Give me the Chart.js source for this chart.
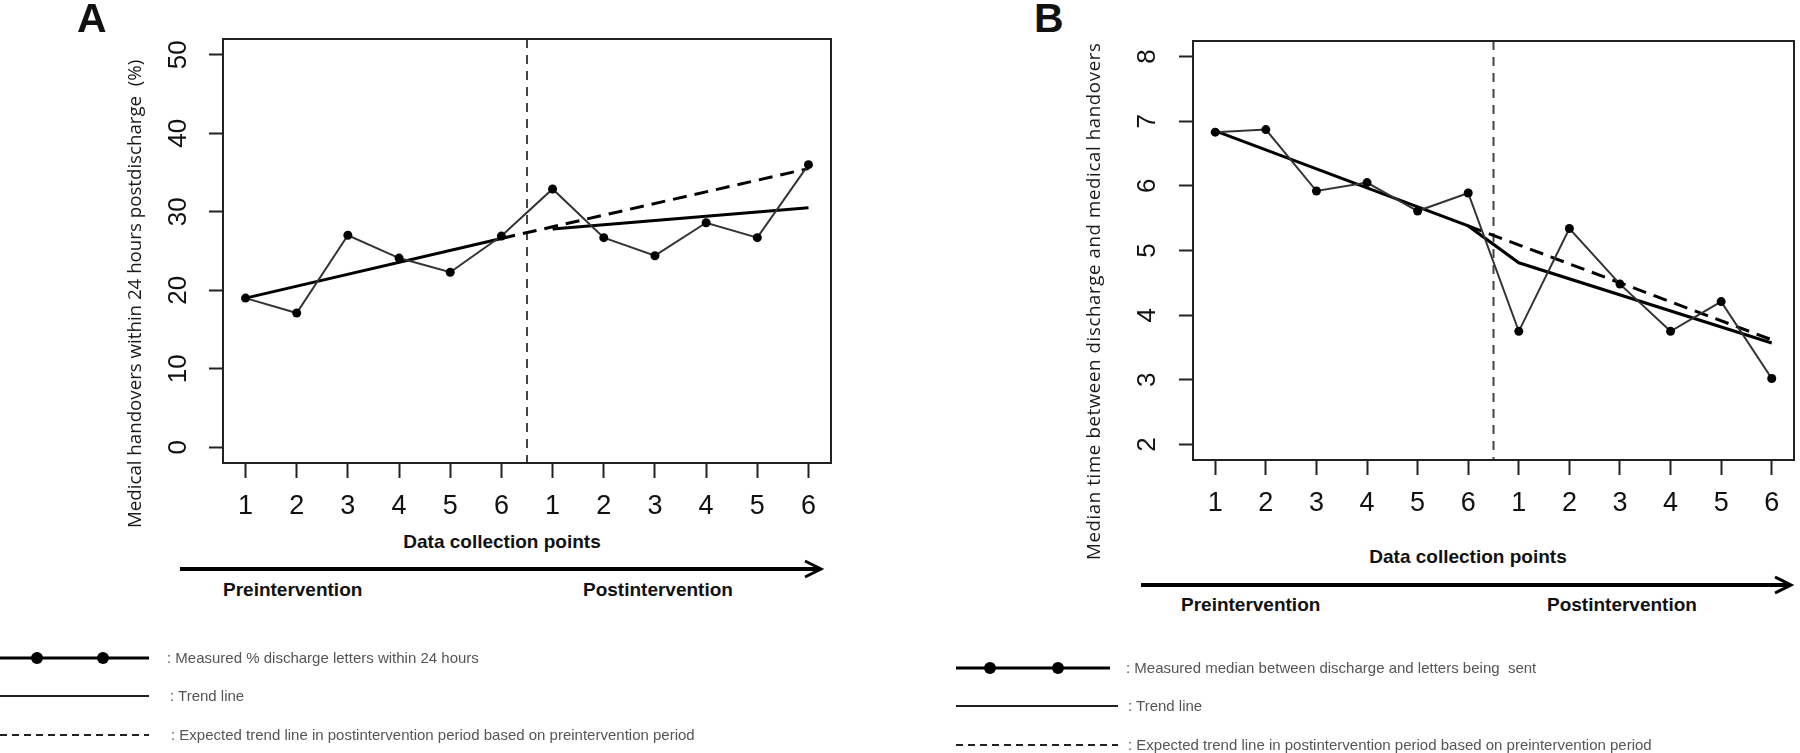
<!DOCTYPE html>
<html>
<head>
<meta charset="utf-8">
<script src="https://cdn.jsdelivr.net/npm/chart.js@4.4.1/dist/chart.umd.min.js"></script>
<style>
body { margin: 0; width: 1800px; height: 753px; background: #fff; position: relative; overflow: hidden; }
canvas { position: absolute; }
.t { position: absolute; white-space: pre; color: #111; }
.letter { font: bold 41px "Liberation Sans", Arial, sans-serif; line-height: 41px; }
.ytitle { font: 18.7px "Open Sans", sans-serif; line-height: 24px; color: #1a1a1a; transform-origin: 0 0; transform: rotate(-90deg); }
.xtitle { font: bold 19px "Liberation Sans Narrow", "Liberation Sans", Arial, sans-serif; line-height: 24px; transform: translateX(-50%); }
.period { font: bold 19px "Liberation Sans Narrow", "Liberation Sans", Arial, sans-serif; line-height: 24px; }
.leg { font: 15px "Liberation Sans Narrow", "Liberation Sans", Arial, sans-serif; line-height: 20px; color: #555; }
svg { position: absolute; left: 0; top: 0; }
</style>
</head>
<body>
<canvas id="chartA" width="880" height="530" style="left:0;top:0"></canvas>
<canvas id="chartB" width="700" height="530" style="left:1100px;top:0"></canvas>

<div class="t letter" style="left:77px;top:-2px">A</div>
<div class="t letter" style="left:1034px;top:-2px">B</div>

<div class="t ytitle" style="left:122px;top:528px">Medical handovers within 24 hours postdischarge  (%)</div>
<div class="t ytitle" style="left:1081px;top:560px;letter-spacing:0.6px">Median time between discharge and medical handovers</div>

<div class="t xtitle" style="left:502px;top:530px">Data collection points</div>
<div class="t xtitle" style="left:1468px;top:545px">Data collection points</div>

<div class="t period" style="left:223px;top:578px">Preintervention</div>
<div class="t period" style="left:583px;top:578px">Postintervention</div>
<div class="t period" style="left:1181px;top:593px">Preintervention</div>
<div class="t period" style="left:1547px;top:593px">Postintervention</div>

<svg width="1800" height="753">
  <g stroke="#000" fill="none">
    <line x1="180" y1="569" x2="820" y2="569" stroke-width="4"/>
    <polyline points="805,561 821,569 805,577" stroke-width="3"/>
    <line x1="1141" y1="585" x2="1790" y2="585" stroke-width="4"/>
    <polyline points="1775,577 1791,585 1775,593" stroke-width="3"/>

    <line x1="0" y1="658" x2="149" y2="658" stroke-width="3"/>
    <line x1="0" y1="696" x2="149" y2="696" stroke-width="2" stroke="#222"/>
    <line x1="0" y1="735" x2="149" y2="735" stroke-width="2" stroke="#222" stroke-dasharray="7 5"/>
    <line x1="956" y1="668" x2="1110" y2="668" stroke-width="3"/>
    <line x1="956" y1="706" x2="1118" y2="706" stroke-width="2" stroke="#222"/>
    <line x1="956" y1="745" x2="1118" y2="745" stroke-width="2" stroke="#222" stroke-dasharray="7 5"/>
  </g>
  <g fill="#000">
    <circle cx="37" cy="658" r="6"/><circle cx="103" cy="658" r="6"/>
    <circle cx="990" cy="668" r="6"/><circle cx="1058" cy="668" r="6"/>
  </g>
</svg>

<div class="t leg" style="left:167px;top:648px">: Measured % discharge letters within 24 hours</div>
<div class="t leg" style="left:170px;top:686px">: Trend line</div>
<div class="t leg" style="left:171px;top:725px">: Expected trend line in postintervention period based on preintervention period</div>
<div class="t leg" style="left:1126px;top:658px">: Measured median between discharge and letters being  sent</div>
<div class="t leg" style="left:1128px;top:696px">: Trend line</div>
<div class="t leg" style="left:1128px;top:735px">: Expected trend line in postintervention period based on preintervention period</div>

<script>
// data collection points: 6 before and 6 after the intervention
const periodLabels = ['1', '2', '3', '4', '5', '6', '1', '2', '3', '4', '5', '6'];
const preCount = 6;

// A: % medical handovers within 24 h
const measuredA = [19.0, 17.1, 27.0, 24.1, 22.3, 26.9, 32.9, 26.7, 24.4, 28.6, 26.7, 36.0];
const trendPreA = [19.0, 26.6];   // at point 1 and 6
const trendPostA = [27.8, 30.5];  // at post point 1 and 6
const expectedA = [26.6, 35.5];   // pre point 6 -> post point 6
const yTicksA = [0, 10, 20, 30, 40, 50];

// B: median time between discharge and handover
const measuredB = [6.83, 6.87, 5.92, 6.05, 5.61, 5.89, 3.75, 5.34, 4.48, 3.75, 4.21, 3.02];
const trendB = [6.85, 5.38, 4.81, 3.57];   // at points 1, 6, post 1, post 6
const expectedB = [5.38, 3.62];            // pre point 6 -> post point 6
const yTicksB = [2, 3, 4, 5, 6, 7, 8];

const n = periodLabels.length;

const framePlugin = {
  id: 'frame',
  beforeDatasetsDraw(chart) {
    const { ctx, chartArea: a, scales: { x } } = chart;
    const px = x.getPixelForValue(preCount + 0.5);
    ctx.save();
    ctx.strokeStyle = '#444';
    ctx.lineWidth = 2;
    ctx.setLineDash([9, 7]);
    ctx.beginPath();
    ctx.moveTo(px, a.top);
    ctx.lineTo(px, a.bottom);
    ctx.stroke();
    ctx.restore();
  },
  afterDraw(chart) {
    const { ctx, chartArea: a } = chart;
    ctx.save();
    ctx.strokeStyle = '#222';
    ctx.lineWidth = 2;
    ctx.strokeRect(a.left, a.top, a.right - a.left, a.bottom - a.top);
    ctx.restore();
  }
};

function pts(xs, ys) {
  return ys.map((y, i) => ({ x: xs[i], y: y }));
}

function makeChart(id, measured, lines, yTicks, o) {
  const yPad = 0.04 * (yTicks[yTicks.length - 1] - yTicks[0]);
  const xPad = 0.04 * (n - 1);
  const datasets = [{
    data: measured.map((v, i) => ({ x: i + 1, y: v })),
    borderColor: '#333',
    borderWidth: 2,
    pointRadius: 4.5,
    pointBackgroundColor: '#000',
    pointBorderColor: '#000',
    pointBorderWidth: 0
  }].concat(lines.map(l => ({
    data: l.data,
    borderColor: '#000',
    borderWidth: 3,
    borderDash: l.dash ? [14, 8] : [],
    pointRadius: 0
  })));

  return new Chart(document.getElementById(id), {
    type: 'line',
    data: { datasets: datasets },
    plugins: [framePlugin],
    options: {
      responsive: false,
      animation: false,
      devicePixelRatio: 1,
      layout: { padding: o.padding },
      plugins: { legend: { display: false }, tooltip: { enabled: false } },
      scales: {
        x: {
          type: 'linear',
          min: 1 - xPad,
          max: n + xPad,
          afterBuildTicks: s => { s.ticks = periodLabels.map((_, i) => ({ value: i + 1 })); },
          afterFit: s => { s.height = o.xHeight; },
          border: { display: false },
          grid: { drawOnChartArea: false, tickLength: 15, tickColor: '#222', tickWidth: 2 },
          ticks: {
            callback: v => periodLabels[v - 1],
            font: { family: 'Liberation Sans', size: 27 },
            color: '#111',
            padding: 12,
            maxRotation: 0,
            autoSkip: false
          }
        },
        y: {
          min: yTicks[0] - yPad,
          max: yTicks[yTicks.length - 1] + yPad,
          afterBuildTicks: s => { s.ticks = yTicks.map(v => ({ value: v })); },
          afterFit: s => { s.width = o.yWidth; },
          border: { display: false },
          grid: { drawOnChartArea: false, tickLength: 14, tickColor: '#222', tickWidth: 2 },
          ticks: {
            font: { family: 'Liberation Sans', size: 26 },
            color: '#111',
            minRotation: 90,
            maxRotation: 90,
            crossAlign: 'center',
            padding: o.yTickPad,
            autoSkip: false
          }
        }
      }
    }
  });
}

makeChart('chartA', measuredA, [
  { data: pts([1, preCount], trendPreA) },
  { data: pts([preCount + 1, n], trendPostA) },
  { data: pts([preCount, n], expectedA), dash: true }
], yTicksA, { padding: { left: 0, top: 39, right: 49, bottom: 0 }, yWidth: 223, xHeight: 67, yTickPad: 16 });

makeChart('chartB', measuredB, [
  { data: pts([1, preCount, preCount + 1, n], trendB) },
  { data: pts([preCount, n], expectedB), dash: true }
], yTicksB, { padding: { left: 0, top: 41, right: 6, bottom: 0 }, yWidth: 93, xHeight: 70, yTickPad: 24 });
</script>
</body>
</html>
